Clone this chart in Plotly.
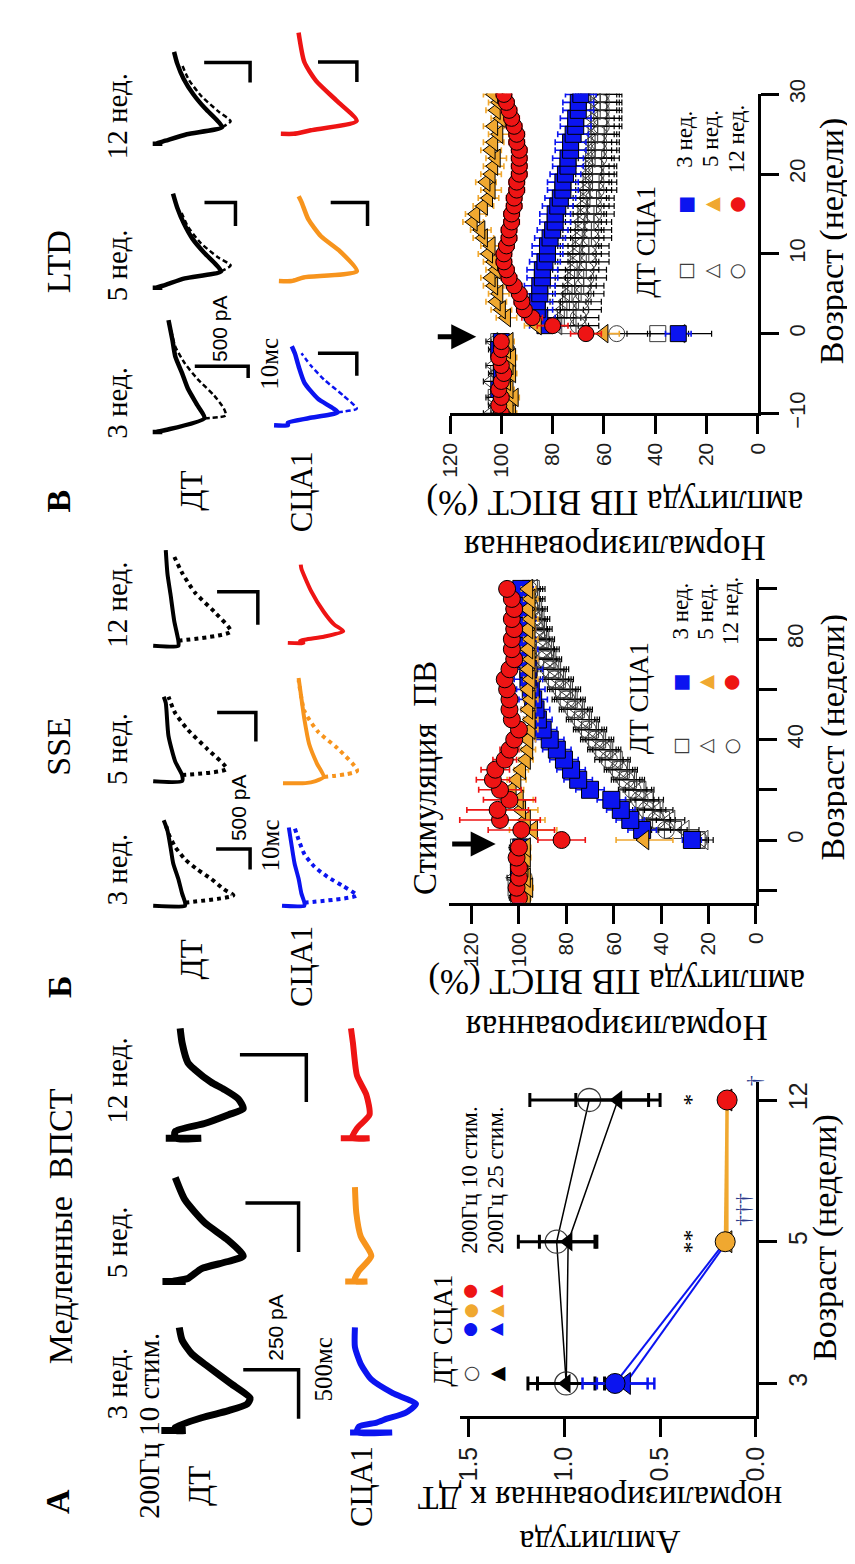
import plotly.graph_objects as go

W, H = 855, 1564
SERIF = "Liberation Serif"
SANS = "Liberation Sans"
GLYPH = "DejaVu Sans"
BLUE = "#0b14f0"
ORANGE = "#f0a830"
ORANGE_TR = "#f7941d"
RED = "#ee1414"
GREY = "#3c3c3c"

# ===================== DATA =====================
# ---- Panel A : slow EPSC amplitude (normalised to WT) vs age ----
A_AGE_LABELS = ["3", "5", "12"]
A_AGE_POS = [0, 1, 2]
A_DT10 = [0.99, 1.04, 0.87]
A_DT10_ERR = [0.20, 0.20, 0.31]
A_DT25 = [0.99, 0.98, 0.72]
A_DT25_ERR = [0.15, 0.15, 0.22]
A_SCA10 = [0.735, 0.16, 0.15]
A_SCA10_ERR = [0.17, 0.02, 0.02]
A_SCA25 = [0.68, 0.15, 0.15]
A_SCA25_ERR = [0.15, 0.02, 0.02]
A_AMP_TICKS = [0, 0.5, 1.0, 1.5]
A_AMP_TICKTEXT = ["0.0", "0.5", "1.0", "1.5"]

# ---- Panel Б : SSE time course ----
B_TIME = [-23, -19, -15, -11, -7, -3, 0, 4, 8, 12, 16, 20, 24, 28, 32, 36, 40, 44,
          48, 52, 56, 60, 64, 68, 72, 76, 80, 84, 88, 92, 96, 100]
B_DT3 = [100, 101, 99, 100, 100, 100, 25, 35, 40, 44, 47, 50, 54, 57, 60, 64, 67, 70,
         73, 76, 79, 81, 84, 86, 88, 89, 91, 92, 93, 94, 95, 95]
B_DT5 = [101, 100, 102, 100, 99, 101, 22, 30, 36, 41, 45, 49, 53, 56, 59, 63, 66, 69,
         72, 75, 78, 80, 83, 85, 87, 88, 90, 91, 92, 93, 94, 94]
B_DT12 = [99, 100, 98, 100, 99, 100, 24, 38, 42, 46, 49, 52, 55, 58, 62, 65, 68, 71,
          74, 77, 80, 82, 85, 87, 89, 90, 92, 93, 94, 95, 96, 96]
B_DT_ERR = [3, 3, 3, 3, 3, 3, 4, 6, 6, 6, 6, 6, 6, 6, 6, 6, 6, 6,
            6, 6, 6, 6, 6, 6, 5, 5, 5, 5, 5, 5, 5, 5]
B_SCA3 = [99, 100, 99, 100, 100, 99, 27, 48, 53, 57, 61, 70, 75, 78, 81, 84, 87, 90,
          92, 93, 94, 95, 96, 96, 97, 97, 98, 98, 98, 99, 99, 99]
B_SCA5 = [97, 96, 97, 98, 97, 97, 47, 94, 97, 99, 100, 103, 101, 99, 97, 96, 96, 95,
          95, 96, 95, 96, 95, 96, 95, 96, 95, 96, 95, 96, 95, 96]
B_SCA5_ERR = [2, 2, 2, 2, 2, 2, 12, 10, 8, 7, 6, 5, 4, 3, 3, 3, 3, 3,
              3, 3, 3, 3, 3, 3, 3, 3, 3, 3, 3, 3, 3, 3]
B_SCA12 = [100, 101, 100, 100, 101, 100, 82, 99, 108, 109, 104, 108, 111, 110, 106, 104, 102, 100,
           103, 104, 104, 105, 106, 104, 102, 103, 103, 102, 103, 102, 103, 105]
B_SCA12_ERR = [2, 2, 2, 2, 2, 2, 10, 14, 17, 13, 11, 9, 7, 6, 5, 4, 3, 3,
               3, 3, 3, 3, 3, 3, 3, 3, 3, 3, 3, 3, 3, 3]
B_AMP_TICKS = [0, 20, 40, 60, 80, 100, 120]
B_TIME_TICKS = [-20, 0, 20, 40, 60, 80, 100]
B_TIME_TICKTEXT = ["", "0", "", "40", "", "80", ""]

# ---- Panel В : LTD time course ----
C_TIME = [-10, -9, -8, -7, -6, -5, -4, -3, -2, -1, 0, 1, 2, 3, 4, 5, 6, 7, 8, 9, 10,
          11, 12, 13, 14, 15, 16, 17, 18, 19, 20, 21, 22, 23, 24, 25, 26, 27, 28, 29, 30]
C_DT3 = [101, 100, 102, 99, 100, 101, 100, 99, 100, 101, 39, 74, 75, 74, 73, 72, 71, 71, 70, 70, 69,
         69, 68, 68, 67, 67, 66, 66, 65, 65, 64, 64, 64, 63, 63, 63, 62, 62, 62, 62, 62]
C_DT5 = [104, 102, 103, 101, 104, 102, 103, 101, 102, 103, 30, 78, 77, 76, 75, 74, 73, 73, 72, 71, 71,
         70, 70, 69, 69, 68, 68, 67, 67, 66, 66, 66, 65, 65, 65, 64, 64, 64, 63, 63, 63]
C_DT12 = [99, 100, 98, 100, 99, 98, 100, 99, 98, 99, 55, 70, 70, 69, 69, 68, 68, 67, 67, 66, 66,
          66, 65, 65, 65, 64, 64, 64, 63, 63, 63, 63, 62, 62, 62, 62, 61, 61, 61, 61, 61]
C_DT_ERR = [3, 3, 3, 3, 3, 3, 3, 3, 3, 3, 12, 8, 8, 8, 8, 8, 8, 8, 8, 8, 8,
            8, 8, 8, 8, 8, 8, 8, 8, 8, 8, 8, 8, 8, 8, 8, 8, 8, 8, 8, 8]
C_SCA3 = [100, 99, 100, 101, 100, 100, 99, 100, 101, 100, 31, 83, 85, 86, 86, 85, 85, 84, 84, 83, 82,
          82, 81, 80, 79, 79, 78, 77, 76, 76, 75, 74, 74, 73, 73, 72, 71, 71, 70, 70, 69]
C_SCA3_ERR = [2, 2, 2, 2, 2, 2, 2, 2, 2, 2, 5, 6, 6, 6, 6, 6, 6, 6, 6, 6, 6,
              6, 6, 6, 6, 6, 6, 6, 6, 6, 6, 6, 6, 6, 6, 6, 6, 6, 6, 6, 6]
C_SCA5 = [96, 97, 95, 97, 98, 96, 97, 96, 98, 97, 60, 86, 98, 100, 102, 101, 103, 104, 102, 103, 105,
          104, 107, 108, 111, 110, 107, 105, 104, 106, 104, 103, 102, 104, 103, 101, 103, 100, 102, 101, 103]
C_SCA5_ERR = [2, 2, 2, 2, 2, 2, 2, 2, 2, 2, 6, 5, 4, 4, 4, 4, 4, 4, 4, 4, 4,
              4, 4, 4, 4, 4, 4, 4, 4, 4, 4, 4, 4, 4, 4, 4, 4, 4, 4, 4, 4]
C_SCA12 = [100, 101, 100, 101, 100, 99, 100, 101, 100, 100, 67, 80, 88, 91, 92, 93, 95, 97, 98, 99, 99,
           98, 97, 97, 96, 96, 95, 95, 94, 94, 93, 93, 93, 93, 94, 94, 95, 96, 97, 98, 99]
C_SCA12_ERR = [2, 2, 2, 2, 2, 2, 2, 2, 2, 2, 6, 6, 4, 3, 3, 3, 3, 3, 3, 3, 3,
               3, 3, 3, 3, 3, 3, 3, 3, 3, 3, 3, 3, 3, 3, 3, 3, 3, 3, 3, 3]
C_AMP_TICKS = [0, 20, 40, 60, 80, 100, 120]
C_TIME_TICKS = [-10, 0, 10, 20, 30]

# ---- example recordings (time ms, current pA) ----
A_DT3_T = [0, 0, 0, 30, 130, 200, 270, 330, 480, 650, 780, 920, 1050]
A_DT3_I = [50, -60, -13, -13, -132, -250, -338, -351, -263, -162, -88, -44, -31]
A_DT5_T = [0, 0, 0, 30, 130, 200, 260, 430, 600, 830, 1060]
A_DT5_I = [45, -60, 0, -70, -132, -246, -320, -246, -145, -57, -13]
A_DT12_T = [0, 0, 0, 70, 150, 240, 300, 400, 500, 570, 700, 770, 970, 1120]
A_DT12_I = [30, -130, -13, -13, -145, -254, -320, -298, -232, -175, -101, -70, -44, -35]
A_SCA3_T = [0, 0, 0, 60, 100, 140, 200, 290, 400, 540, 700, 870, 1070]
A_SCA3_I = [0, -190, -30, -40, -120, -167, -250, -298, -193, -96, -48, -22, -22]
A_SCA5_T = [0, 0, 0, 100, 260, 460, 700, 960]
A_SCA5_I = [0, -100, -40, -60, -118, -70, -50, -44]
A_SCA12_T = [0, 0, 0, 100, 240, 440, 640, 970, 1120]
A_SCA12_I = [20, -110, -30, -53, -110, -96, -53, -35, -26]

B_DT3_T = [0, 0, 1.5, 6, 13, 20.5, 28.5, 36.5, 41.5]
B_DT3_I = [40, -430, -430, -385, -330, -255, -215, -170, -115]
B_DT3D_T = [1.5, 5, 8, 13, 17.5, 22.5, 28.5, 35, 39.5]
B_DT3D_I = [-430, -1140, -1000, -815, -615, -430, -285, -185, -145]
B_DT5_T = [0, 0, 3, 9.5, 22, 38, 41]
B_DT5_I = [40, -385, -385, -285, -185, -145, -115]
B_DT5D_T = [3, 6, 15.5, 25, 33, 41]
B_DT5D_I = [-385, -1040, -760, -470, -285, -185]
B_DT12_T = [0, 0, 2.5, 12, 25, 35, 46.5]
B_DT12_I = [40, -330, -330, -270, -215, -170, -145]
B_DT12D_T = [2.5, 7, 16.5, 26, 35.5, 45]
B_DT12D_I = [-330, -1100, -860, -570, -385, -245]
B_SCA3_T = [0, 0, 1.5, 6, 13, 20.5, 28.5, 38]
B_SCA3_I = [30, -300, -300, -255, -215, -155, -115, -70]
B_SCA3D_T = [1.5, 5, 9.5, 14, 19, 25, 32, 38]
B_SCA3D_I = [-300, -1070, -870, -640, -445, -300, -215, -155]
B_SCA5_T = [0, 0, 1, 3, 9.5, 19, 31, 47.5, 51]
B_SCA5_I = [30, -300, -450, -570, -470, -355, -285, -215, -200]
B_SCA5D_T = [3, 6, 17, 25, 35, 50]
B_SCA5D_I = [-570, -1060, -770, -485, -285, -200]
B_SCA12_T = [0, 0, 1, 3, 5.7, 9, 15, 25, 36, 38]
B_SCA12_I = [30, -200, -150, -500, -785, -650, -500, -315, -170, -160]

C_DT3_T = [0, 0, 0, 1.7, 11.7, 22.5, 36.7, 50, 64, 78, 95]
C_DT3_I = [30, -60, 0, -91, -455, -390, -300, -245, -182, -155, -118]
C_DT3D_T = [11.7, 14, 20, 31, 45, 58, 72.5, 89]
C_DT3D_I = [-455, -655, -636, -545, -390, -273, -182, -136]
C_DT5_T = [0, 0, 0, 2.5, 8, 14, 20, 30, 42, 55, 68, 80]
C_DT5_I = [30, -60, 0, -90, -270, -610, -560, -450, -340, -260, -200, -160]
C_DT5D_T = [14, 19, 26, 38, 52, 66]
C_DT5D_I = [-610, -700, -580, -420, -300, -230]
C_DT12_T = [0, 0, 0, 2.5, 8, 14, 20, 30, 42, 55, 68, 78]
C_DT12_I = [30, -60, 0, -90, -290, -620, -570, -460, -350, -260, -200, -170]
C_DT12D_T = [14, 19, 27, 40, 54, 68]
C_DT12D_I = [-620, -700, -590, -430, -310, -240]
C_SCA3_T = [0, 0, 2, 6, 11, 22.5, 36, 50, 61, 67]
C_SCA3_I = [30, -100, -100, -300, -565, -380, -255, -200, -165, -136]
C_SCA3D_T = [11, 14, 25, 39, 50, 61]
C_SCA3D_I = [-565, -745, -620, -435, -320, -227]
C_SCA5_T = [0, 0, 3, 8.3, 25, 38, 52.5, 67, 72]
C_SCA5_I = [30, -90, -200, -700, -545, -364, -245, -182, -155]
C_SCA12_T = [0, 0, 3, 11, 27.5, 45, 61, 86]
C_SCA12_I = [30, -90, -250, -680, -500, -300, -190, -136]

# scale bars: (pA length, ms length)
A_BARS = [(250, 500), (240, 500), (300, 480)]
B_BARS = [(500, 10), (570, 14), (600, 16)]
C_BARS_DT = [(500, 10), (290, 20), (430, 17)]
C_BARS_SCA = [(364, 19), (345, 20), (364, 17)]

# ===================== FIGURE =====================
fig = go.Figure()
layout = {}
ann = []


def P(x, y):
    return x / W, 1 - y / H


def axis_style(size, **kw):
    d = dict(showline=True, linecolor="black", linewidth=3, ticks="outside", ticklen=18,
             tickwidth=3, tickcolor="black", showgrid=False, zeroline=False, tickangle=-90,
             tickfont=dict(family=SANS, size=size, color="#1c1c1c"), fixedrange=True, mirror=False)
    d.update(kw)
    return d


# ---- main plot axes ----
layout["xaxis"] = axis_style(25, domain=[453 / W, 758 / W], range=[1.546, 0], anchor="y",
                             tickvals=A_AMP_TICKS, ticktext=A_AMP_TICKTEXT)
layout["yaxis"] = axis_style(25, domain=[1 - 1420 / H, 1 - 1080 / H], range=[-0.228, 2.125], anchor="x",
                             side="right", tickvals=A_AGE_POS, ticktext=A_AGE_LABELS)
layout["xaxis2"] = axis_style(21, domain=[442 / W, 758 / W], range=[129.5, 0], anchor="y2",
                              tickvals=B_AMP_TICKS)
layout["yaxis2"] = axis_style(22, domain=[1 - 897 / H, 1 - 567 / H], range=[-25, 103.9], anchor="x2",
                              side="right", tickvals=B_TIME_TICKS, ticktext=B_TIME_TICKTEXT)
layout["xaxis3"] = axis_style(21, domain=[443 / W, 760 / W], range=[120, 0], anchor="y3",
                              tickvals=C_AMP_TICKS)
layout["yaxis3"] = axis_style(22, domain=[1 - 398 / H, 1 - 72 / H], range=[-10, 30.1], anchor="x3",
                              side="right", tickvals=C_TIME_TICKS)

# ---- Panel A data ----
fig.add_trace(go.Scatter(x=A_DT10, y=A_AGE_POS, mode="lines+markers", xaxis="x", yaxis="y",
                         line=dict(color="black", width=1.5),
                         marker=dict(symbol="circle-open", size=23, color=GREY, line=dict(width=1.3)),
                         error_x=dict(type="data", array=A_DT10_ERR, color="black", thickness=3, width=7)))
fig.add_trace(go.Scatter(x=A_DT25, y=A_AGE_POS, mode="lines+markers", xaxis="x", yaxis="y",
                         line=dict(color="black", width=1.5),
                         marker=dict(symbol="triangle-left", size=17, color="black"),
                         error_x=dict(type="data", array=A_DT25_ERR, color="black", thickness=3, width=7)))
for vals in (A_SCA10, A_SCA25):
    fig.add_trace(go.Scatter(x=vals[0:2], y=A_AGE_POS[0:2], mode="lines", xaxis="x", yaxis="y",
                             line=dict(color=BLUE, width=2)))
    fig.add_trace(go.Scatter(x=vals[1:3], y=A_AGE_POS[1:3], mode="lines", xaxis="x", yaxis="y",
                             line=dict(color=ORANGE, width=3)))
fig.add_trace(go.Scatter(x=A_SCA25, y=A_AGE_POS, mode="markers", xaxis="x", yaxis="y",
                         marker=dict(symbol="triangle-left", size=19, color=[BLUE, ORANGE, RED],
                                     line=dict(color="black", width=1)),
                         error_x=dict(type="data", array=A_SCA25_ERR, color=BLUE, thickness=2.5, width=6)))
fig.add_trace(go.Scatter(x=A_SCA10, y=A_AGE_POS, mode="markers", xaxis="x", yaxis="y",
                         marker=dict(symbol="circle", size=20, color=[BLUE, ORANGE, RED],
                                     line=dict(color="black", width=1)),
                         error_x=dict(type="data", array=A_SCA10_ERR, color=BLUE, thickness=2.5, width=6)))


# ---- Panels Б and В data ----
def time_course(xa, ya, times, dt_sets, sca_sets, msize):
    for vals, sym, err in dt_sets:
        fig.add_trace(go.Scatter(x=vals, y=times, mode="markers", xaxis=xa, yaxis=ya,
                                 marker=dict(symbol=sym, size=msize, color=GREY, line=dict(width=1)),
                                 error_x=dict(type="data", array=err, color="black", thickness=1.2, width=3)))
    for vals, sym, col, err, ecol in sca_sets:
        fig.add_trace(go.Scatter(x=vals, y=times, mode="markers", xaxis=xa, yaxis=ya,
                                 marker=dict(symbol=sym, size=msize, color=col,
                                             line=dict(color="black", width=1)),
                                 error_x=dict(type="data", array=err, color=ecol, thickness=1.6, width=3)))


time_course("x2", "y2", B_TIME,
            [(B_DT3, "square-open", B_DT_ERR), (B_DT5, "triangle-left-open", B_DT_ERR),
             (B_DT12, "circle-open", B_DT_ERR)],
            [(B_SCA3, "square", BLUE, B_DT_ERR, BLUE),
             (B_SCA5, "triangle-left", ORANGE, B_SCA5_ERR, ORANGE),
             (B_SCA12, "circle", RED, B_SCA12_ERR, RED)], 17)
time_course("x3", "y3", C_TIME,
            [(C_DT3, "square-open", C_DT_ERR), (C_DT5, "triangle-left-open", C_DT_ERR),
             (C_DT12, "circle-open", C_DT_ERR)],
            [(C_SCA3, "square", BLUE, C_SCA3_ERR, BLUE),
             (C_SCA5, "triangle-left", ORANGE, C_SCA5_ERR, ORANGE),
             (C_SCA12, "circle", RED, C_SCA12_ERR, RED)], 16)

# ---- recordings on their own small hidden axes ----
counter = [4]


def rec_axes(base_x, start_y, kx, ky, left=30, right=150, down=15, up=125):
    k = counter[0]
    counter[0] += 1
    x0, x1 = base_x - left, base_x + right
    ytop = max(start_y - up, 0)
    ybot = min(start_y + down, H)
    layout[f"xaxis{k}"] = dict(domain=[x0 / W, x1 / W], range=[left / kx, -right / kx], visible=False,
                               anchor=f"y{k}", fixedrange=True)
    layout[f"yaxis{k}"] = dict(domain=[1 - ybot / H, 1 - ytop / H],
                               range=[-(ybot - start_y) / ky, (start_y - ytop) / ky], visible=False,
                               anchor=f"x{k}", fixedrange=True)
    return f"x{k}", f"y{k}"


def rec(xa, ya, t, i, color, width, dash="solid"):
    fig.add_trace(go.Scatter(x=i, y=t, mode="lines", xaxis=xa, yaxis=ya,
                             line=dict(color=color, width=width, dash=dash, shape="spline", smoothing=0.6)))


def bar(xa, ya, corner_i, corner_t, size):
    pa, ms = size
    fig.add_trace(go.Scatter(x=[corner_i + pa, corner_i, corner_i], y=[corner_t, corner_t, corner_t - ms],
                             mode="lines", xaxis=xa, yaxis=ya, line=dict(color="black", width=3.5)))


# Panel A recordings (0.228 px/pA, 0.1 px/ms)
AKX, AKY = 0.228, 0.1
xa, ya = rec_axes(157, 1435, AKX, AKY)
rec(xa, ya, A_DT3_T, A_DT3_I, "black", 7)
bar(xa, ya, -570, 620, A_BARS[0])
xa, ya = rec_axes(157, 1283, AKX, AKY)
rec(xa, ya, A_DT5_T, A_DT5_I, "black", 7)
bar(xa, ya, -570, 800, A_BARS[1])
xa, ya = rec_axes(157, 1137, AKX, AKY)
rec(xa, ya, A_DT12_T, A_DT12_I, "black", 7)
bar(xa, ya, -605, 850, A_BARS[2])
xa, ya = rec_axes(340, 1437, AKX, AKY)
rec(xa, ya, A_SCA3_T, A_SCA3_I, BLUE, 6)
xa, ya = rec_axes(335, 1283, AKX, AKY)
rec(xa, ya, A_SCA5_T, A_SCA5_I, ORANGE_TR, 6)
xa, ya = rec_axes(335, 1137, AKX, AKY)
rec(xa, ya, A_SCA12_T, A_SCA12_I, RED, 6)

# Panel Б recordings (0.07 px/pA, 2.1 px/ms)
BKX, BKY = 0.07, 2.1
DOT = "4px,4px"
xa, ya = rec_axes(140, 900, BKX, BKY)
rec(xa, ya, B_DT3D_T, B_DT3D_I, "black", 4, DOT)
rec(xa, ya, B_DT3_T, B_DT3_I, "black", 4)
bar(xa, ya, -1386, 27.6, B_BARS[0])
xa, ya = rec_axes(140, 773, BKX, BKY)
rec(xa, ya, B_DT5D_T, B_DT5D_I, "black", 4, DOT)
rec(xa, ya, B_DT5_T, B_DT5_I, "black", 4)
bar(xa, ya, -1471, 33.3, B_BARS[1])
xa, ya = rec_axes(140, 635, BKX, BKY)
rec(xa, ya, B_DT12D_T, B_DT12D_I, "black", 4, DOT)
rec(xa, ya, B_DT12_T, B_DT12_I, "black", 4)
bar(xa, ya, -1500, 26.2, B_BARS[2])
xa, ya = rec_axes(272, 900, BKX, BKY)
rec(xa, ya, B_SCA3D_T, B_SCA3D_I, BLUE, 4, DOT)
rec(xa, ya, B_SCA3_T, B_SCA3_I, BLUE, 4)
xa, ya = rec_axes(273, 775, BKX, BKY)
rec(xa, ya, B_SCA5D_T, B_SCA5D_I, ORANGE_TR, 4, DOT)
rec(xa, ya, B_SCA5_T, B_SCA5_I, ORANGE_TR, 4)
xa, ya = rec_axes(278, 632, BKX, BKY)
rec(xa, ya, B_SCA12_T, B_SCA12_I, RED, 4)

# Panel В recordings (0.11 px/pA, 1.2 px/ms)
CKX, CKY = 0.11, 1.2
DASH = "5px,3px"
xa, ya = rec_axes(140, 417, CKX, CKY)
rec(xa, ya, C_DT3D_T, C_DT3D_I, "black", 2.5, DASH)
rec(xa, ya, C_DT3_T, C_DT3_I, "black", 4.5)
bar(xa, ya, -864, 55.8, C_BARS_DT[0])
xa, ya = rec_axes(140, 270, CKX, CKY)
rec(xa, ya, C_DT5D_T, C_DT5D_I, "black", 2.5, DASH)
rec(xa, ya, C_DT5_T, C_DT5_I, "black", 4.5)
bar(xa, ya, -745, 72.5, C_BARS_DT[1])
xa, ya = rec_axes(140, 123, CKX, CKY)
rec(xa, ya, C_DT12D_T, C_DT12D_I, "black", 2.5, DASH)
rec(xa, ya, C_DT12_T, C_DT12_I, "black", 4.5)
bar(xa, ya, -882, 69, C_BARS_DT[2])
xa, ya = rec_axes(265, 410, CKX, CKY)
rec(xa, ya, C_SCA3D_T, C_SCA3D_I, BLUE, 2.5, DASH)
rec(xa, ya, C_SCA3_T, C_SCA3_I, BLUE, 4.5)
bar(xa, ya, -745, 61, C_BARS_SCA[0])
xa, ya = rec_axes(270, 263, CKX, CKY)
rec(xa, ya, C_SCA5_T, C_SCA5_I, ORANGE_TR, 4.5)
bar(xa, ya, -800, 66.7, C_BARS_SCA[1])
xa, ya = rec_axes(272, 113, CKX, CKY)
rec(xa, ya, C_SCA12_T, C_SCA12_I, RED, 4.5)
bar(xa, ya, -682, 61, C_BARS_SCA[2])


# ---- text ----
def txt(x, y, s, size, family=SERIF, angle=-90, color="black"):
    px, py = P(x, y)
    ann.append(dict(x=px, y=py, xref="paper", yref="paper", text=s, showarrow=False, textangle=angle,
                    font=dict(size=size, family=family, color=color), xanchor="center", yanchor="middle"))


LAB = 29      # week / group labels
HEAD = 34     # panel headings
# Panel A labels
txt(38, 1507, "<b>A</b>", 34)
txt(42, 1227, "Медленные  ВПСТ", HEAD)
txt(132, 1430, "200Гц 10 стим.", LAB)
txt(100, 1387, "3 нед.", LAB)
txt(100, 1243, "5 нед.", LAB)
txt(100, 1078, "12 нед.", LAB)
txt(185, 1492, "ДТ", 31)
txt(352, 1492, "СЦА1", 31)
txt(263, 1330, "250 pA", 21, SANS)
txt(313, 1373, "500мс", 25)
# Panel Б labels
txt(40, 983, "<b>Б</b>", 34)
txt(40, 737, "SSE", HEAD)
txt(100, 863, "3 нед.", LAB)
txt(100, 740, "5 нед.", LAB)
txt(100, 593, "12 нед.", LAB)
txt(177, 955, "ДТ", 31)
txt(290, 962, "СЦА1", 31)
txt(225, 800, "500 pA", 21, SANS)
txt(258, 838, "10мс", 25)
txt(417, 770, "Стимуляция  ПВ", 33)
# Panel В labels
txt(40, 487, "<b>В</b>", 34)
txt(40, 243, "LTD", HEAD)
txt(100, 387, "3 нед.", LAB)
txt(100, 247, "5 нед.", LAB)
txt(100, 95, "12 нед.", LAB)
txt(177, 477, "ДТ", 31)
txt(290, 478, "СЦА1", 31)
txt(205, 312, "500 pA", 21, SANS)
txt(257, 347, "10мс", 25)

# axis titles
txt(830, 1238, "Возраст (недели)", 34)
txt(838, 728, "Возраст (недели)", 34)
txt(836, 222, "Возраст (недели)", 34)
txt(597, 1527, "Амплитуда<br>нормализированная к ДТ", 34, angle=180)
txt(615, 1000, "Нормализированная<br>амплитуда ПВ ВПСТ (%)", 35, angle=180)
txt(613, 512, "Нормализированная<br>амплитуда ПВ ВПСТ (%)", 35, angle=180)

# legends
txt(436, 1333, "ДТ СЦА1", 27)
for x, g, label in ((463, "●", "200Гц 10 стим."), (490, "▲", "200Гц 25 стим.")):
    txt(x, 1377, g if g == "▲" else "○", 19, GLYPH, color="black" if g == "▲" else GREY)
    txt(x, 1332, g, 17, GLYPH, color=BLUE)
    txt(x, 1313, g, 17, GLYPH, color=ORANGE)
    txt(x, 1293, g, 17, GLYPH, color=RED)
    txt(x, 1180, label, 23)

for hx, hy, rows, gy1, gy2, ty in ((637, 688, (680, 706, 732), 737, 672, 600),
                                   (645, 223, (685, 712, 738), 253, 185, 118)):
    txt(hx, hy, "ДТ СЦА1", 27)
    for x, og, fg, col, lab in zip(rows, ("□", "△", "○"), ("■", "▲", "●"), (BLUE, ORANGE, RED),
                                   ("3 нед.", "5 нед.", "12 нед.")):
        txt(x, gy1, og, 19, GLYPH, color=GREY)
        txt(x, gy2, fg, 19, GLYPH, color=col)
        txt(x, ty, lab, 23)

# significance marks
ann.append(dict(x=0.34, y=1, xref="x", yref="y", text="**", showarrow=False, textangle=-90,
                font=dict(size=24, family=SERIF, color="black")))
ann.append(dict(x=0.34, y=2, xref="x", yref="y", text="*", showarrow=False, textangle=-90,
                font=dict(size=24, family=SERIF, color="black")))
txt(745, 1210, "†††", 22, color="#2a3a8a")
txt(755, 1078, "†", 22, color="#2a3a8a")

# stimulation arrows
for hx, hy, off in ((490, 837, -45), (470, 320, -40)):
    px, py = P(hx, hy)
    ann.append(dict(x=px, y=py, xref="paper", yref="paper", text="", showarrow=True, ax=off, ay=0,
                    arrowhead=2, arrowsize=1.0, arrowwidth=5, arrowcolor="black"))

layout.update(dict(width=W, height=H, margin=dict(l=0, r=0, t=0, b=0), paper_bgcolor="white",
                   plot_bgcolor="rgba(0,0,0,0)", showlegend=False, annotations=ann))
fig.update_layout(**layout)
fig.write_html("out.html")
